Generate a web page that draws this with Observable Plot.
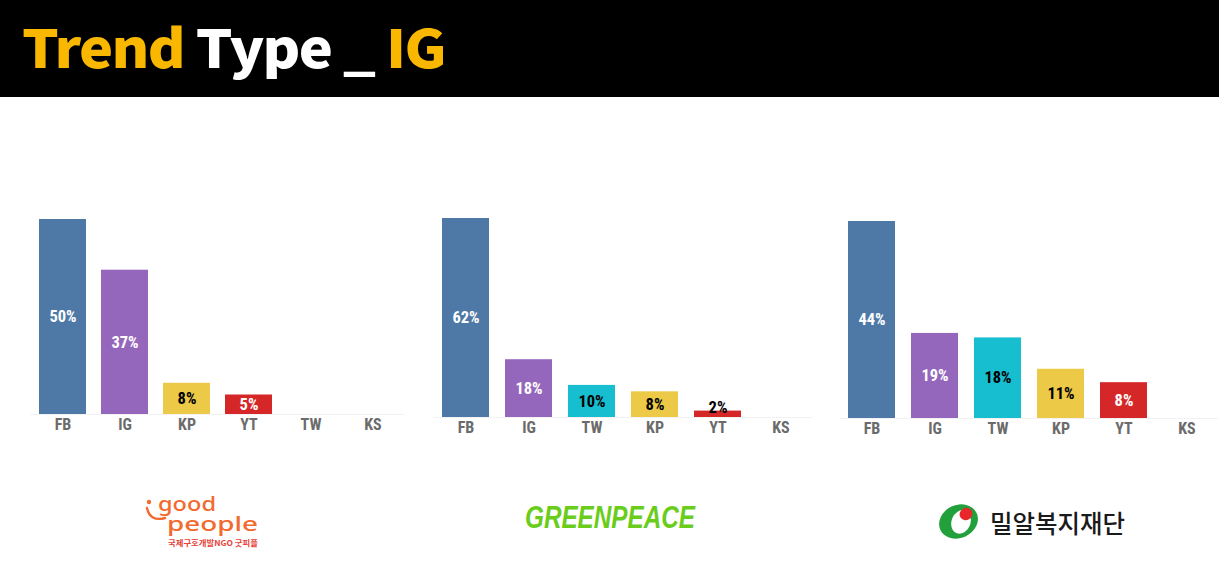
<!DOCTYPE html>
<html>
<head>
<meta charset="utf-8">
<script src="https://cdn.jsdelivr.net/npm/d3@7"></script>
<script src="https://cdn.jsdelivr.net/npm/@observablehq/plot@0.6"></script>
<style>
  body { margin: 0; background: #fff; width: 1219px; height: 569px; overflow: hidden; position: relative; font-family: "Noto Sans", sans-serif; }
  #deco { position: absolute; left: 0; top: 0; }
  .panel { position: absolute; top: 180px; }
</style>
</head>
<body>
<svg id="deco" width="1219" height="569" viewBox="0 0 1219 569">
  <rect x="0" y="0" width="1219" height="97" fill="#000"/>
  <text x="22" y="68" font-family="'Noto Sans CJK KR', 'Noto Sans', sans-serif" font-weight="900" font-size="53" letter-spacing="-1.5" textLength="423" lengthAdjust="spacingAndGlyphs"><tspan fill="#f9b700">Trend</tspan><tspan fill="#fff"> Type _ </tspan><tspan fill="#f9b700">IG</tspan></text>

  <!-- good people -->
  <circle cx="149" cy="502" r="2.2" fill="#f26a2e"/>
  <path d="M147,508 Q150,522 165,518" fill="none" stroke="#f26a2e" stroke-width="2.4" stroke-linecap="round"/>
  <text font-family="'Noto Sans', sans-serif" font-weight="500" font-size="20" fill="#f26a2e"><tspan x="158" y="511" textLength="58" lengthAdjust="spacingAndGlyphs">good</tspan><tspan x="167" y="531" textLength="91" lengthAdjust="spacingAndGlyphs">people</tspan></text>
  <text x="168" y="546" font-family="'Noto Sans CJK KR', sans-serif" font-weight="700" font-size="8" fill="#e8413a" textLength="90" lengthAdjust="spacingAndGlyphs">국제구호개발NGO 굿피플</text>

  <!-- greenpeace -->
  <text x="525" y="528" font-family="'Liberation Sans', sans-serif" font-weight="900" font-style="italic" font-size="31" fill="#6acc1b" textLength="170" lengthAdjust="spacingAndGlyphs">GREENPEACE</text>

  <!-- milal -->
  <ellipse cx="958.5" cy="521.5" rx="20" ry="16.5" transform="rotate(-25 958.5 521.5)" fill="#22a03c"/>
  <ellipse cx="961" cy="522" rx="9.5" ry="12" transform="rotate(20 961 522)" fill="#fff"/>
  <ellipse cx="966" cy="514" rx="6.5" ry="6" transform="rotate(-30 966 514)" fill="#e8262c"/>
  <text x="990" y="533" font-family="'Noto Sans CJK KR', sans-serif" font-weight="500" font-size="25" fill="#1a1a1a" textLength="135" lengthAdjust="spacingAndGlyphs">밀알복지재단</text>
</svg>

<div id="p1" class="panel"></div>
<div id="p2" class="panel"></div>
<div id="p3" class="panel"></div>

<script>
// platform colours
const platformColor = {FB: "#4e79a7", IG: "#9467bd", TW: "#17becf", KP: "#edc948", YT: "#d62728", KS: "#cccccc"};

// good people
const goodpeopleCats = ["FB", "IG", "KP", "YT", "TW", "KS"];
const goodpeopleVals = [50, 37, 8, 5, 0, 0];

// greenpeace
const greenpeaceCats = ["FB", "IG", "TW", "KP", "YT", "KS"];
const greenpeaceVals = [62, 18, 10, 8, 2, 0];

// milal
const milalCats = ["FB", "IG", "TW", "KP", "YT", "KS"];
const milalVals = [44, 19, 18, 11, 8, 0];

const panels = [
  {id: "#p1", cats: goodpeopleCats, vals: goodpeopleVals, left: 30, width: 374, base: 414, top: 219},
  {id: "#p2", cats: greenpeaceCats, vals: greenpeaceVals, left: 434, width: 378, base: 417, top: 218},
  {id: "#p3", cats: milalCats, vals: milalVals, left: 840, width: 378, base: 418, top: 221}
];

const font = "'Roboto Condensed', 'DejaVu Sans Condensed', 'Liberation Sans Narrow', Roboto, sans-serif";

panels.forEach(p => {
  const data = p.cats.map((c, i) => ({cat: c, value: p.vals[i]}));
  const max = d3.max(p.vals);
  const small = d => d.value / max < 0.05;
  const svgTop = 180;
  const chart = Plot.plot({
    width: p.width,
    height: 270,
    marginLeft: 0,
    marginRight: 0,
    marginTop: 0,
    marginBottom: 0,
    style: {fontFamily: font, background: "transparent", overflow: "visible"},
    x: {domain: p.cats, paddingInner: 0.25, paddingOuter: 0.125, label: null},
    y: {domain: [0, max], range: [p.base - svgTop, p.top - svgTop], axis: null},
    marks: [
      Plot.ruleY([0], {stroke: "#f2f2f2", strokeWidth: 1}),
      Plot.barY(data.filter(d => d.value > 0), {x: "cat", y: "value", fill: d => platformColor[d.cat]}),
      // labels centred in the bar
      Plot.text(data.filter(d => d.value > 0 && !small(d)), {
        x: "cat",
        y: d => d.value / 2,
        text: d => d.value + "%",
        fill: d => (d.cat === "TW" || d.cat === "KP") ? "#000" : "#fff",
        fontSize: 16.5,
        fontWeight: "bold"
      }),
      // tiny bars: label sits on the bar top
      Plot.text(data.filter(d => d.value > 0 && small(d)), {
        x: "cat",
        y: "value",
        dy: -3,
        text: d => d.value + "%",
        fill: "#000",
        fontSize: 16.5,
        fontWeight: "bold"
      }),
      Plot.axisX({
        anchor: "bottom",
        y: 0,
        tickSize: 0,
        tickPadding: 4,
        fontSize: 16,
        fontWeight: "bold",
        color: "#6b6b6b",
        label: null
      })
    ]
  });
  document.querySelector(p.id).style.left = p.left + "px";
  d3.select(p.id).append(() => chart);
});
</script>
</body>
</html>
